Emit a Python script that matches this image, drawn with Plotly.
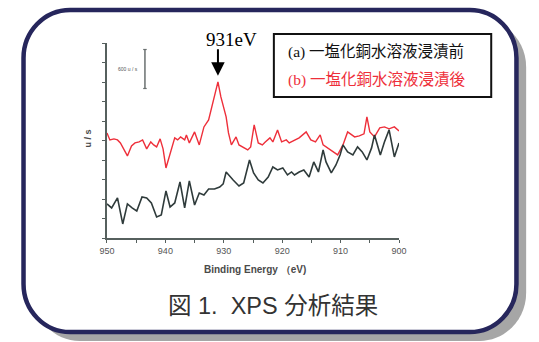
import plotly.graph_objects as go

# ---- spectrum data: binding energy (eV) and intensity (u/s) ----
# (a) before immersion in copper(I) chloride solution
energy_a = [950.0, 949.2, 948.2, 947.3, 946.5, 945.7, 944.9, 944.0, 943.2, 942.4,
            941.5, 940.7, 939.9, 939.2, 938.4, 937.5, 936.7, 935.9, 935.0, 934.2,
            933.4, 932.6, 931.6, 930.7, 930.1, 929.6, 928.4, 927.4, 926.6, 925.6,
            924.9, 924.1, 923.3, 922.4, 921.6, 920.8, 919.9, 919.1, 918.4, 917.9,
            917.1, 916.3, 915.4, 914.6, 913.8, 913.0, 912.5, 911.6, 910.8, 910.1,
            909.6, 908.8, 907.9, 907.1, 906.3, 905.5, 904.7, 904.2, 903.2, 902.5,
            901.7, 900.8, 900.0]
counts_a = [524, 462, 616, 216, 524, 462, 416, 631, 616, 539,
            323, 354, 724, 477, 539, 862, 462, 878, 508, 693,
            662, 755, 755, 785, 832, 1016, 893, 801, 847, 1201,
            1001, 893, 847, 939, 1093, 1047, 1078, 970, 1016, 970,
            1016, 1047, 939, 1170, 1016, 1355, 1170, 1001, 1124, 1278,
            1432, 1324, 1278, 1401, 1324, 1201, 1386, 1586, 1278, 1478,
            1663, 1247, 1463]

# (b) after immersion in copper(I) chloride solution
energy_b = [950.0, 949.5, 948.8, 948.2, 947.7, 947.0, 946.5, 945.8, 945.2, 944.5,
            943.9, 943.2, 942.5, 942.0, 941.5, 940.9, 940.4, 939.9, 939.2, 938.4,
            937.9, 937.4, 936.7, 936.4, 935.9, 935.0, 934.2, 933.4, 932.6, 931.0,
            930.5, 930.1, 929.6, 929.2, 928.7, 928.2, 927.9, 927.4, 926.7, 925.9,
            925.4, 924.8, 924.1, 923.4, 922.9, 922.1, 921.6, 920.8, 920.1, 919.3,
            918.8, 917.9, 917.1, 915.9, 915.1, 914.3, 913.5, 913.0, 911.8, 910.5,
            909.6, 908.8, 907.6, 906.8, 906.0, 905.5, 905.0, 904.2, 903.3, 902.5,
            901.7, 900.8, 900.0]
counts_b = [1617, 1509, 1525, 1509, 1463, 1355, 1263, 1417, 1463, 1478,
            1509, 1371, 1478, 1432, 1401, 1525, 1371, 1078, 1309, 1540,
            1509, 1555, 1509, 1586, 1463, 1632, 1432, 1709, 1817, 2402,
            2171, 2048, 1863, 1617, 1432, 1509, 1555, 1432, 1401, 1355,
            1401, 1740, 1463, 1432, 1478, 1540, 1478, 1663, 1478, 1509,
            1463, 1509, 1540, 1632, 1509, 1478, 1586, 1432, 1355, 1278,
            1432, 1632, 1555, 1571, 1602, 1863, 1632, 1555, 1694, 1709,
            1679, 1709, 1648]

x_tickvals = [950, 945, 940, 935, 930, 925, 920, 915, 910, 905, 900]
x_ticktext = ["950", "", "940", "", "930", "", "920", "", "910", "", "900"]
y_tickvals = [0, 300, 600, 900, 1200, 1500, 1800, 2100, 2400, 2700, 3000]

peak_energy = 931.0
legend_labels = ["(a) 一塩化銅水溶液浸漬前", "(b) 一塩化銅水溶液浸漬後"]
caption = "図 1.  XPS 分析結果"
scale_bar = 600  # u/s

W, H = 539, 342
RED = "#ee2f3a"
DARK = "#2f3b3b"
AXIS = "#56605e"


def px(x):
    return x / W


def py(y):
    return 1 - y / H


def rounded_rect(x0, y0, x1, y1, r):
    k = 0.5523 * r
    pts = [
        ("M", [(x0 + r, y0)]),
        ("L", [(x1 - r, y0)]),
        ("C", [(x1 - r + k, y0), (x1, y0 + r - k), (x1, y0 + r)]),
        ("L", [(x1, y1 - r)]),
        ("C", [(x1, y1 - r + k), (x1 - r + k, y1), (x1 - r, y1)]),
        ("L", [(x0 + r, y1)]),
        ("C", [(x0 + r - k, y1), (x0, y1 - r + k), (x0, y1 - r)]),
        ("L", [(x0, y0 + r)]),
        ("C", [(x0, y0 + r - k), (x0 + r - k, y0), (x0 + r, y0)]),
    ]
    out = []
    for cmd, ps in pts:
        out.append(cmd + " ".join(f"{px(a):.5f},{py(b):.5f}" for a, b in ps))
    return " ".join(out) + " Z"


fig = go.Figure()

fig.add_trace(go.Scatter(x=energy_b, y=counts_b, mode="lines",
                         line=dict(color=RED, width=1.4), showlegend=False))
fig.add_trace(go.Scatter(x=energy_a, y=counts_a, mode="lines",
                         line=dict(color=DARK, width=1.6), showlegend=False))

shapes = [
    # drop shadow and rounded frame
    dict(type="path", xref="paper", yref="paper", layer="below",
         path=rounded_rect(26, 19, 534, 341, 48),
         fillcolor="#a6a6a6", line=dict(width=0)),
    dict(type="path", xref="paper", yref="paper", layer="below",
         path=rounded_rect(16, 10, 524, 332, 48),
         fillcolor="white", line=dict(color="#26265c", width=4.5)),
    # legend box
    dict(type="rect", xref="paper", yref="paper",
         x0=px(274), x1=px(498), y0=py(97), y1=py(34),
         fillcolor="white", line=dict(color="#111111", width=2)),
]

# intensity scale bar (600 u/s)
bar_x = 943.5
bar_y0 = 2300
bar_y1 = bar_y0 + scale_bar
shapes.append(dict(type="line", xref="x", yref="y", x0=bar_x, x1=bar_x,
                   y0=bar_y0, y1=bar_y1, line=dict(color="#6a7070", width=1.5)))
for yy in (bar_y0, bar_y1):
    shapes.append(dict(type="line", xref="x", yref="y", x0=bar_x + 0.3, x1=bar_x - 0.3,
                       y0=yy, y1=yy, line=dict(color="#6a7070", width=1.2)))

annotations = [
    # peak marker
    dict(x=peak_energy, y=max(counts_b), xref="x", yref="y", text="",
         showarrow=True, ax=0, ay=-34, arrowhead=2, arrowsize=1.35,
         arrowwidth=2, arrowcolor="black", standoff=6),
    dict(x=peak_energy, y=py(39.5), xref="x", yref="paper", xshift=14,
         text=f"{peak_energy:.0f}eV", showarrow=False, xanchor="center", yanchor="middle",
         font=dict(family="Liberation Serif", size=19, color="black")),
    dict(x=bar_x, y=(bar_y0 + bar_y1) / 2, xref="x", yref="y", xshift=-17,
         text=f"{scale_bar} u / s", showarrow=False,
         font=dict(family="Liberation Sans", size=5, color="#555")),
    # legend text
    dict(x=px(286), y=py(52), xref="paper", yref="paper", text=legend_labels[0],
         showarrow=False, xanchor="left", yanchor="middle",
         font=dict(family="Liberation Serif, Noto Sans CJK JP", size=15.5, color="#111")),
    dict(x=px(286), y=py(80), xref="paper", yref="paper", text=legend_labels[1],
         showarrow=False, xanchor="left", yanchor="middle",
         font=dict(family="Liberation Serif, Noto Sans CJK JP", size=15.5, color=RED)),
    # axis titles
    dict(x=px(255), y=py(269), xref="paper", yref="paper", text="<b>Binding Energy （eV)</b>",
         showarrow=False, xanchor="center", yanchor="middle",
         font=dict(family="Liberation Sans", size=10, color="#4a4a4a")),
    dict(x=px(82), y=py(139), xref="paper", yref="paper", text="<b>u / s</b>", textangle=-90,
         showarrow=False, xanchor="center", yanchor="middle",
         font=dict(family="Liberation Sans", size=9, color="#4a4a4a")),
    # caption
    dict(x=px(273), y=py(306), xref="paper", yref="paper", text=caption,
         showarrow=False, xanchor="center", yanchor="middle",
         font=dict(family="Liberation Sans, Noto Sans CJK JP", size=23.5, color="#333")),
]

fig.update_layout(
    width=W, height=H,
    margin=dict(l=0, r=0, t=0, b=0),
    paper_bgcolor="white", plot_bgcolor="rgba(0,0,0,0)",
    showlegend=False,
    shapes=shapes, annotations=annotations,
    xaxis=dict(domain=[px(102), px(403)], range=[950, 900],
               showline=True, linecolor=AXIS, linewidth=1.5,
               ticks="outside", ticklen=3, tickcolor=AXIS, tickwidth=1,
               tickvals=x_tickvals, ticktext=x_ticktext,
               tickfont=dict(family="Liberation Sans", size=9, color="#555"),
               showgrid=False, zeroline=False, fixedrange=True),
    yaxis=dict(domain=[py(238), py(43)], range=[0, 3000],
               showline=True, linecolor=AXIS, linewidth=1.5,
               ticks="outside", ticklen=3, tickcolor=AXIS, tickwidth=1,
               tickvals=y_tickvals, showticklabels=False,
               showgrid=False, zeroline=False, fixedrange=True),
)

fig.write_html("out.html")
